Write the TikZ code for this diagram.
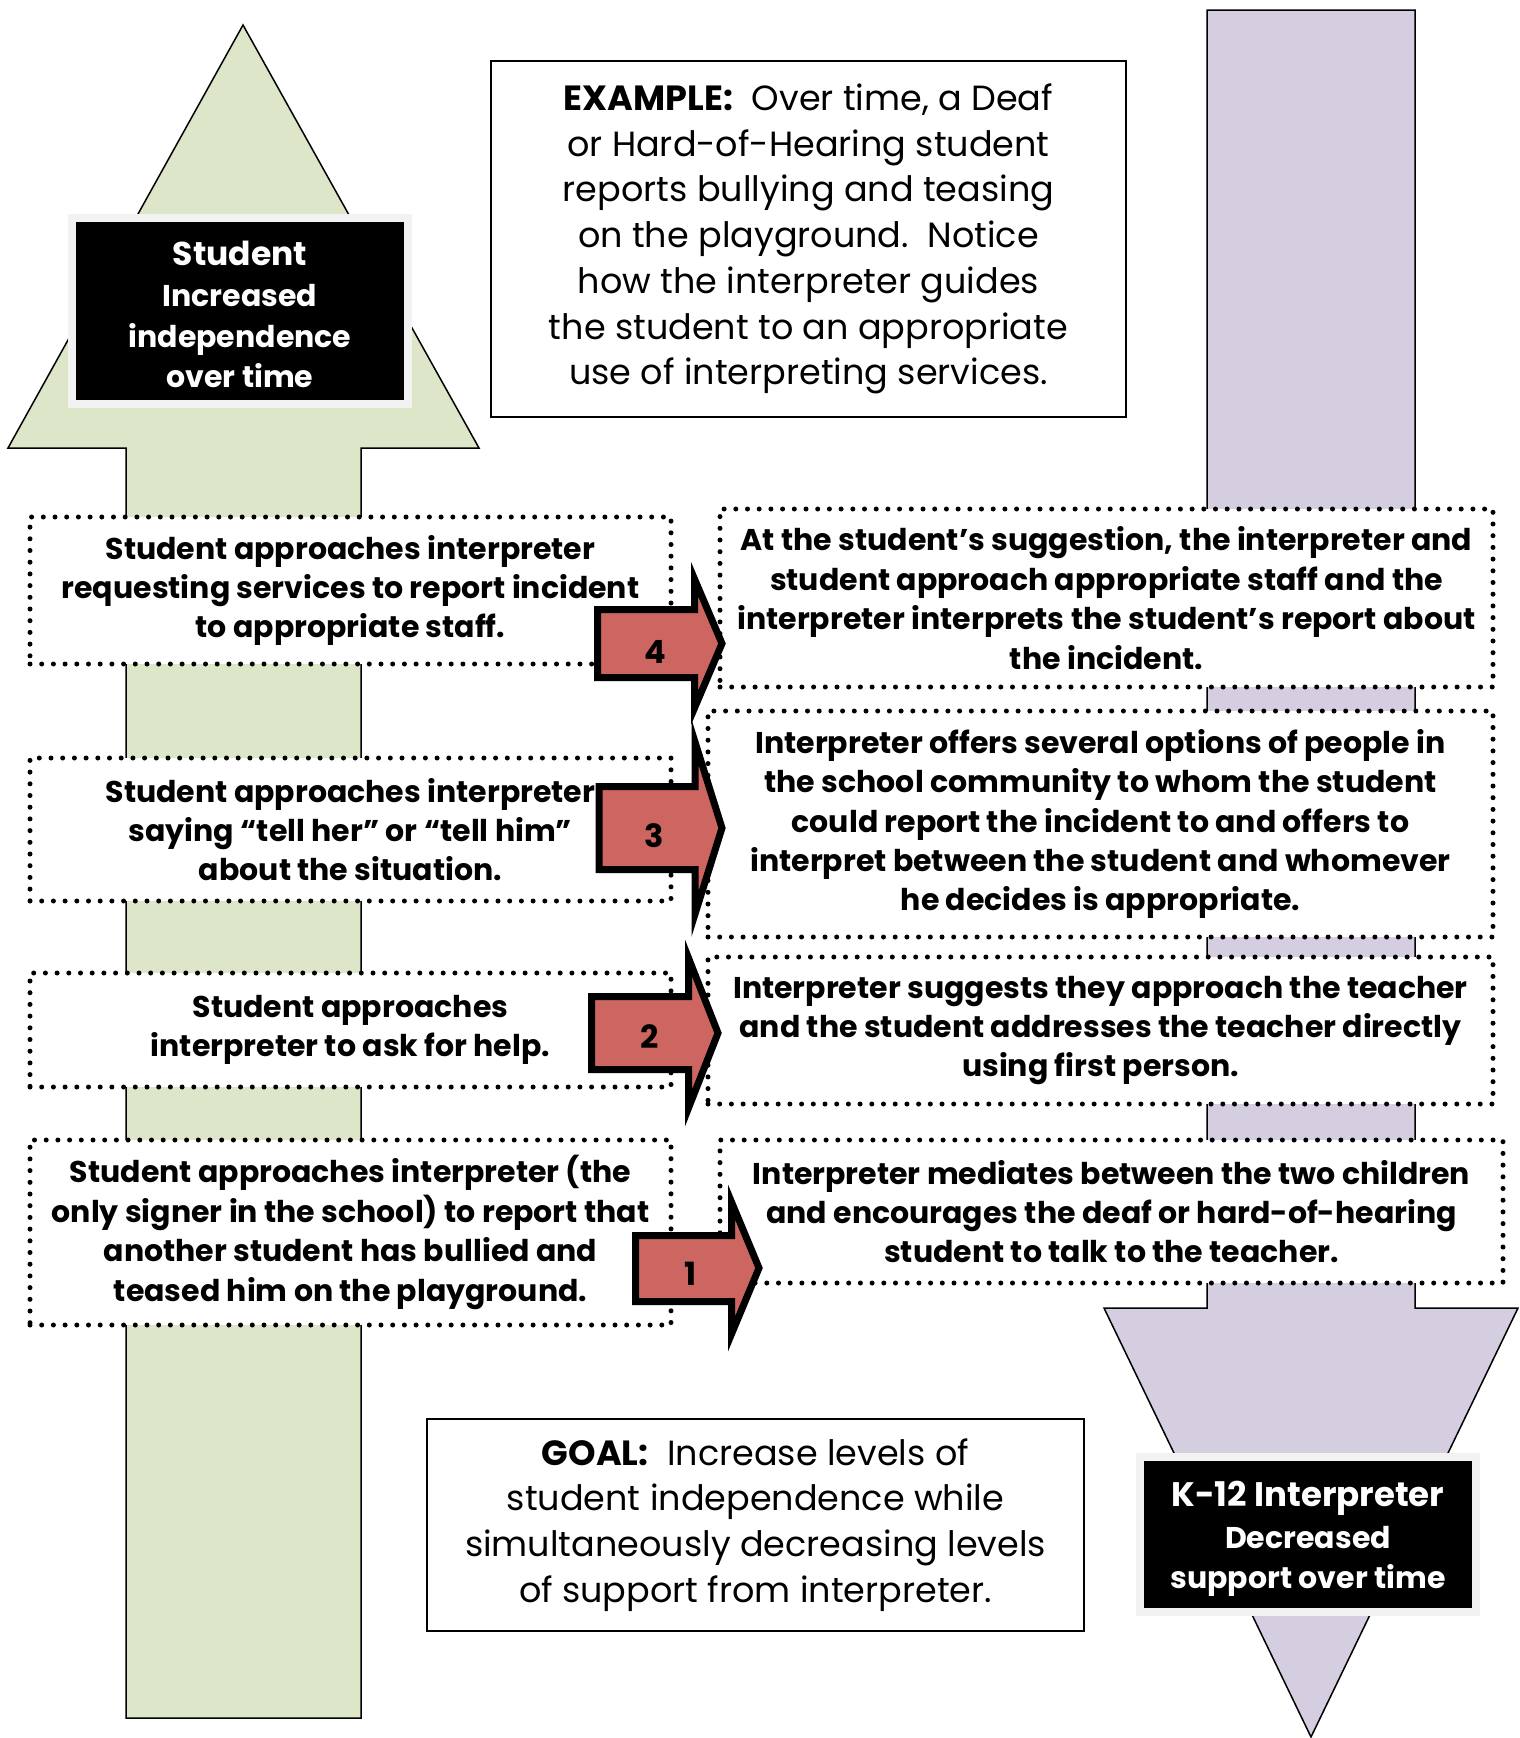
\documentclass[tikz,border=0pt]{standalone}
\usepackage{fontspec}
\setmainfont{Poppins}
\tikzset{
  stepbox/.style={draw=black,fill=white,line width=5pt,line cap=round,
    dash pattern=on 0pt off 11.7pt,inner sep=0pt,outer sep=0pt,align=center,
    font=\bfseries\fontsize{30}{39.4}\selectfont},
  notebox/.style={draw=black,fill=white,line width=1.5pt,inner sep=0pt,
    outer sep=0pt,align=center,font=\fontsize{35}{45.7}\selectfont},
  tagbox/.style={fill=black,draw=tagFrame,line width=8pt,
    inner sep=0pt,outer sep=0pt},
  tagtext/.style={text=white,inner sep=0pt,outer sep=0pt,align=center,
    font=\bfseries\fontsize{30}{39.5}\selectfont},
  stepnum/.style={anchor=base,inner sep=0pt,outer sep=0pt,
    font=\bfseries\fontsize{32}{32}\selectfont}
}
\begin{document}
\begin{tikzpicture}[x=1pt,y=-1pt]
\definecolor{upColor}{RGB}{221,230,200}
\definecolor{downColor}{RGB}{213,205,224}
\definecolor{stepColor}{RGB}{205,102,96}
\definecolor{tagFrame}{gray}{0.95}
\path[use as bounding box,fill=white] (0,0) rectangle (1520,1738);

% student arrow (up) and interpreter arrow (down)
\path[draw=black,fill=upColor,line width=1.5pt,line join=miter] (126,1718) --
	(126,448) -- (8,448) -- (243,25) -- (479,448) -- (361,448) --
	(361,1718) -- cycle;
\path[draw=black,fill=downColor,line width=1.5pt,line join=miter] (1207,10) --
	(1415,10) -- (1415,1308) -- (1518,1308) -- (1311,1737) --
	(1104,1308) -- (1207,1308) -- cycle;

\node[tagbox,minimum width=336pt,minimum height=186pt] (student) at (240,311) {};
\node[tagtext] (studentText) at ([yshift=-3.5pt]student.center)
	{{\fontsize{33}{39.5}\selectfont Student}\\[2pt]Increased\\[1pt]independence\\[1pt]over time};
\node[tagbox,minimum width=336pt,minimum height=155pt] (interp) at (1308,1534.5) {};
\node[tagtext] (interpText) at ([yshift=-4pt]interp.center)
	{{\fontsize{34}{39.5}\selectfont K-12 Interpreter}\\[3pt]Decreased\\support over time};

\node[notebox,minimum width=635pt,minimum height=356pt] (example) at (808.5,239)
	{\textbf{EXAMPLE:}\ \ Over time, a Deaf\\or Hard-of-Hearing student\\
	reports bullying and teasing\\on the playground.\ \ Notice\\
	how the interpreter guides\\the student to an appropriate\\
	use of interpreting services.};
\node[notebox,minimum width=657pt,minimum height=212pt] (goal) at (755.5,1525)
	{\textbf{GOAL:}\ \ Increase levels of\\student independence while\\
	simultaneously decreasing levels\\of support from interpreter.};

% what the student does
\node[stepbox,minimum width=641pt,minimum height=147pt] (s4) at (350.5,590.5)
	{Student approaches interpreter\\requesting services to report incident\\to appropriate staff.};
\node[stepbox,minimum width=641pt,minimum height=143pt] (s3) at (350.5,829.5)
	{Student approaches interpreter\\saying “tell her” or “tell him”\\about the situation.};
\node[stepbox,minimum width=641pt,minimum height=114pt] (s2) at (350.5,1030)
	{Student approaches\\interpreter to ask for help.};
\node[stepbox,minimum width=641pt,minimum height=185pt] (s1) at (350.5,1232.5)
	{Student approaches interpreter (the\\only signer in the school) to report that\\another student has bullied and\\teased him on the playground.};

% what the interpreter does
\node[stepbox,minimum width=773pt,minimum height=178pt] (i4) at (1106.5,598)
	{At the student’s suggestion, the interpreter and\\student approach appropriate staff and the\\interpreter interprets the student’s report about\\the incident.};
\node[stepbox,minimum width=785pt,minimum height=226pt] (i3) at (1100.5,824)
	{Interpreter offers several options of people in\\the school community to whom the student\\could report the incident to and offers to\\interpret between the student and whomever\\he decides is appropriate.};
\node[stepbox,minimum width=785pt,minimum height=147pt] (i2) at (1100.5,1030.5)
	{Interpreter suggests they approach the teacher\\and the student addresses the teacher directly\\using first person.};
\node[stepbox,minimum width=783pt,minimum height=143pt] (i1) at (1111.5,1211.5)
	{Interpreter mediates between the two children\\and encourages the deaf or hard-of-hearing\\student to talk to the teacher.};

% numbered steps
\path[draw=black,fill=stepColor,line width=7pt,line join=miter] (597.5,609.5) --
	(694.5,609.5) -- (694.5,579) -- (722,643.5) -- (694.5,708) --
	(694.5,677.5) -- (597.5,677.5) -- cycle;
\path[draw=black,fill=stepColor,line width=7pt,line join=miter] (599,786.5) --
	(695,786.5) -- (695,742) -- (722,828) -- (695,914) --
	(695,869.5) -- (599,869.5) -- cycle;
\path[draw=black,fill=stepColor,line width=7pt,line join=miter] (591.5,996.5) --
	(688.5,996.5) -- (688.5,958) -- (718,1033) -- (688.5,1108) --
	(688.5,1069.5) -- (591.5,1069.5) -- cycle;
\path[draw=black,fill=stepColor,line width=7pt,line join=miter] (635.5,1235.5) --
	(731.5,1235.5) -- (731.5,1202) -- (759,1268) -- (731.5,1334) --
	(731.5,1301.5) -- (635.5,1301.5) -- cycle;
\node[stepnum] (n4) at (655,663) {4};
\node[stepnum] (n3) at (654,847) {3};
\node[stepnum] (n2) at (650,1048) {2};
\node[stepnum] (n1) at (691,1285) {1};
\end{tikzpicture}
\end{document}
